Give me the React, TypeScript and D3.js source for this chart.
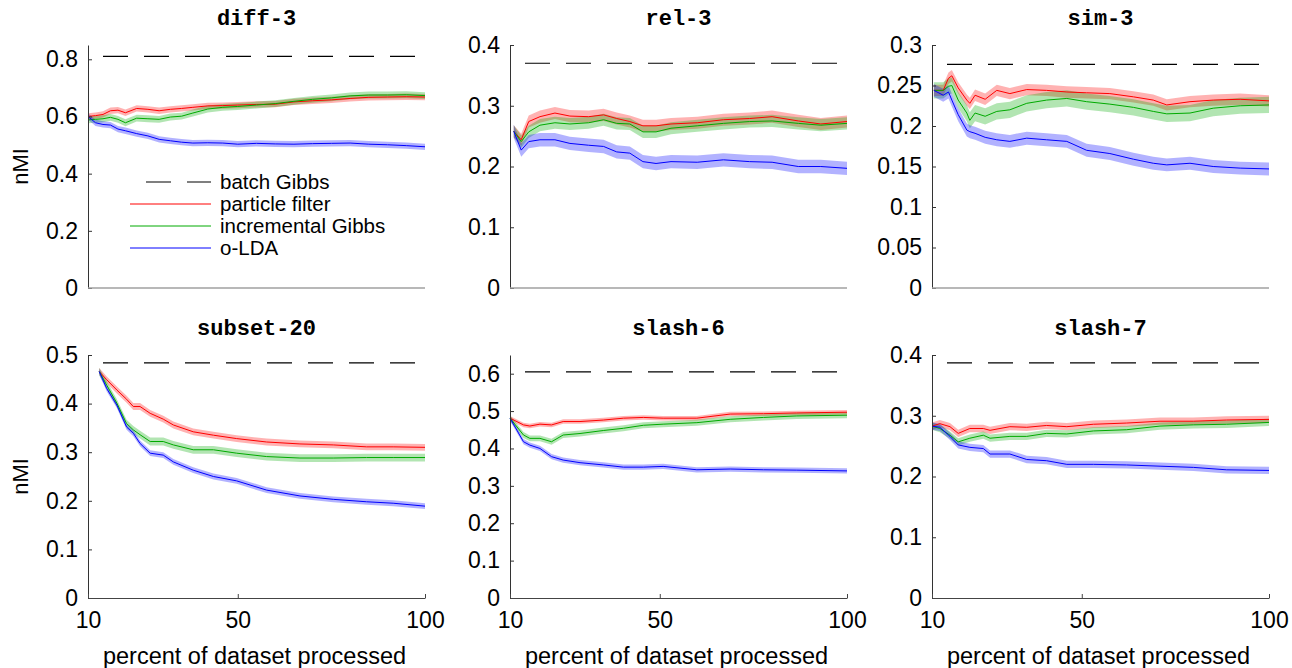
import * as d3 from "d3";
import React, { useEffect, useRef } from "react";

const width = 1292;
const height = 668;

// x = percent of dataset processed, values = nMI
const diff3X = [10, 12, 14, 16, 18, 20, 23, 26, 29, 32, 35, 38, 42, 46, 50, 55, 60, 65, 70, 75, 80, 85, 90, 95, 100];
const diff3PF = [0.600, 0.603, 0.607, 0.620, 0.622, 0.613, 0.628, 0.625, 0.620, 0.625, 0.628, 0.632, 0.637, 0.638, 0.640, 0.642, 0.643, 0.651, 0.655, 0.658, 0.663, 0.667, 0.668, 0.669, 0.668];
const diff3IG = [0.588, 0.590, 0.592, 0.597, 0.590, 0.578, 0.594, 0.592, 0.590, 0.598, 0.601, 0.612, 0.626, 0.632, 0.635, 0.640, 0.645, 0.653, 0.660, 0.665, 0.672, 0.675, 0.675, 0.676, 0.673];
const diff3OLDA = [0.600, 0.578, 0.572, 0.570, 0.556, 0.550, 0.540, 0.532, 0.520, 0.515, 0.510, 0.507, 0.508, 0.507, 0.503, 0.506, 0.504, 0.503, 0.505, 0.506, 0.507, 0.503, 0.501, 0.498, 0.494];

const rel3X = [11, 13, 15, 18, 22, 26, 31, 35, 38.5, 42, 45.5, 49, 53, 60, 67, 74, 80, 87, 93, 100];
const rel3PF = [0.258, 0.244, 0.274, 0.282, 0.288, 0.283, 0.282, 0.285, 0.279, 0.274, 0.267, 0.267, 0.270, 0.272, 0.277, 0.279, 0.282, 0.275, 0.270, 0.274];
const rel3IG = [0.258, 0.241, 0.257, 0.268, 0.272, 0.270, 0.272, 0.277, 0.271, 0.270, 0.257, 0.257, 0.263, 0.267, 0.271, 0.274, 0.275, 0.271, 0.268, 0.271];
const rel3OLDA = [0.258, 0.227, 0.241, 0.244, 0.244, 0.238, 0.235, 0.233, 0.224, 0.222, 0.208, 0.205, 0.208, 0.207, 0.211, 0.208, 0.207, 0.200, 0.200, 0.197];

const sim3X = [10.5, 13, 14.4, 15.3, 17, 19.3, 20.1, 21.5, 24.2, 27.3, 30.8, 35.3, 40.6, 46, 51.3, 57.5, 63.8, 69.1, 72.7, 78.9, 85.1, 92.3, 100];
const sim3PF = [0.244, 0.244, 0.259, 0.262, 0.247, 0.232, 0.228, 0.238, 0.233, 0.244, 0.240, 0.245, 0.244, 0.242, 0.241, 0.240, 0.236, 0.232, 0.226, 0.230, 0.232, 0.233, 0.231];
const sim3IG = [0.244, 0.244, 0.249, 0.250, 0.232, 0.216, 0.207, 0.216, 0.212, 0.218, 0.220, 0.228, 0.232, 0.234, 0.230, 0.227, 0.223, 0.218, 0.215, 0.216, 0.222, 0.225, 0.226];
const sim3OLDA = [0.244, 0.238, 0.242, 0.232, 0.214, 0.195, 0.193, 0.191, 0.186, 0.183, 0.181, 0.185, 0.183, 0.181, 0.170, 0.166, 0.159, 0.154, 0.152, 0.154, 0.150, 0.148, 0.147];

const subset20X = [13, 15, 17.7, 20.3, 22.1, 23.9, 26.6, 30.1, 32.8, 38.1, 43.5, 49.7, 57.7, 66.6, 75.5, 84.4, 91.5, 100];
const subset20PF = [0.466, 0.449, 0.428, 0.409, 0.394, 0.394, 0.380, 0.368, 0.356, 0.342, 0.335, 0.328, 0.321, 0.317, 0.315, 0.311, 0.311, 0.310];
const subset20IG = [0.466, 0.438, 0.401, 0.359, 0.346, 0.336, 0.322, 0.322, 0.315, 0.305, 0.305, 0.298, 0.291, 0.288, 0.288, 0.289, 0.289, 0.289];
const subset20OLDA = [0.466, 0.431, 0.397, 0.352, 0.339, 0.318, 0.298, 0.294, 0.280, 0.263, 0.250, 0.241, 0.222, 0.210, 0.203, 0.198, 0.195, 0.189];

const slash6X = [10, 13.6, 15.3, 18, 21.1, 24.2, 28.7, 34.9, 40.3, 45.6, 50.9, 59.9, 68.8, 77.7, 86.6, 100];
const slash6PF = [0.481, 0.463, 0.460, 0.465, 0.463, 0.472, 0.472, 0.476, 0.481, 0.483, 0.481, 0.481, 0.492, 0.493, 0.495, 0.497];
const slash6IG = [0.481, 0.436, 0.427, 0.427, 0.418, 0.436, 0.440, 0.448, 0.454, 0.462, 0.465, 0.469, 0.478, 0.483, 0.487, 0.489];
const slash6OLDA = [0.481, 0.418, 0.409, 0.400, 0.378, 0.369, 0.362, 0.356, 0.350, 0.350, 0.352, 0.343, 0.345, 0.343, 0.342, 0.340];

const slash7X = [10, 12.1, 14.8, 17, 20.1, 23.7, 25.5, 30.8, 35.3, 40.6, 46, 53.1, 62, 70.9, 79.8, 88.7, 100];
const slash7PF = [0.283, 0.287, 0.282, 0.271, 0.279, 0.279, 0.276, 0.282, 0.281, 0.284, 0.282, 0.286, 0.288, 0.291, 0.291, 0.293, 0.294];
const slash7IG = [0.283, 0.279, 0.268, 0.257, 0.263, 0.268, 0.263, 0.266, 0.266, 0.271, 0.270, 0.275, 0.277, 0.283, 0.285, 0.286, 0.289];
const slash7OLDA = [0.283, 0.281, 0.266, 0.252, 0.248, 0.246, 0.237, 0.237, 0.228, 0.226, 0.220, 0.220, 0.219, 0.217, 0.215, 0.211, 0.210];

// batch Gibbs reference level per panel
const batchGibbs = [0.81, 0.37, 0.276, 0.484, 0.605, 0.387];
const titles = ["diff-3", "rel-3", "sim-3", "subset-20", "slash-6", "slash-7"];
const yMax = [0.85, 0.4, 0.3, 0.5, 0.65, 0.4];
const yTicks = [
  [0, 0.2, 0.4, 0.6, 0.8],
  [0, 0.1, 0.2, 0.3, 0.4],
  [0, 0.05, 0.1, 0.15, 0.2, 0.25, 0.3],
  [0, 0.1, 0.2, 0.3, 0.4, 0.5],
  [0, 0.1, 0.2, 0.3, 0.4, 0.5, 0.6],
  [0, 0.1, 0.2, 0.3, 0.4],
];
const xTicks = [10, 50, 100];
// half width of the shaded band: [particle filter, incremental Gibbs, o-LDA]
const bandHalf = [
  [0.011, 0.012, 0.011],
  [0.010, 0.010, 0.011],
  [0.007, 0.010, 0.008],
  [0.007, 0.008, 0.006],
  [0.006, 0.008, 0.007],
  [0.006, 0.006, 0.006],
];

const panels = [
  { x: diff3X, ys: [diff3PF, diff3IG, diff3OLDA] },
  { x: rel3X, ys: [rel3PF, rel3IG, rel3OLDA] },
  { x: sim3X, ys: [sim3PF, sim3IG, sim3OLDA] },
  { x: subset20X, ys: [subset20PF, subset20IG, subset20OLDA] },
  { x: slash6X, ys: [slash6PF, slash6IG, slash6OLDA] },
  { x: slash7X, ys: [slash7PF, slash7IG, slash7OLDA] },
];

const seriesNames = ["particle filter", "incremental Gibbs", "o-LDA"];
const seriesColors = ["#ff0000", "#00aa00", "#0000ff"];

const colLeft = [88, 510, 932];
const rowTop = [45, 355];
const pw = 337;
const ph = 243;
const sans = "'Liberation Sans', Arial, Helvetica, sans-serif";

const fmt = (d) => (d === 0 ? "0" : String(+d.toFixed(2)));

export default function App() {
  const ref = useRef(null);

  useEffect(() => {
    const svg = d3.select(ref.current);
    svg.selectAll("*").remove();

    panels.forEach((p, i) => {
      const row = Math.floor(i / 3);
      const left = colLeft[i % 3];
      const top = rowTop[row];
      const x = d3.scaleLinear().domain([10, 100]).range([left, left + pw]);
      const y = d3.scaleLinear().domain([0, yMax[i]]).range([top + ph, top]);
      const g = svg.append("g");

      // shaded bands
      p.ys.forEach((vals, k) => {
        const hw = bandHalf[i][k];
        const area = d3
          .area()
          .x((_, j) => x(p.x[j]))
          .y0((d) => y(d - hw))
          .y1((d) => y(d + hw));
        g.append("path")
          .attr("d", area(vals))
          .attr("fill", seriesColors[k])
          .attr("fill-opacity", 0.3);
      });

      // mean lines
      p.ys.forEach((vals, k) => {
        const line = d3
          .line()
          .x((_, j) => x(p.x[j]))
          .y((d) => y(d));
        g.append("path")
          .attr("d", line(vals))
          .attr("fill", "none")
          .attr("stroke", seriesColors[k])
          .attr("stroke-width", 1);
      });

      // batch Gibbs
      g.append("line")
        .attr("x1", x(10))
        .attr("x2", x(100))
        .attr("y1", y(batchGibbs[i]))
        .attr("y2", y(batchGibbs[i]))
        .attr("stroke", "#000")
        .attr("stroke-width", 1.2)
        .attr("stroke-dasharray", "25,16")
        .attr("stroke-dashoffset", 26);

      // y axis
      const ya = g
        .append("g")
        .attr("transform", `translate(${left},0)`)
        .call(
          d3
            .axisLeft(y)
            .tickValues(yTicks[i])
            .tickFormat(fmt)
            .tickSizeInner(-4)
            .tickSizeOuter(0)
            .tickPadding(10)
        );
      ya.select(".domain").attr("stroke", "#333");
      ya.selectAll(".tick line").attr("stroke", "#333");
      ya.selectAll("text")
        .attr("font-family", sans)
        .attr("font-size", 23)
        .attr("fill", "#000");

      // x axis
      if (row === 0) {
        g.append("line")
          .attr("x1", left)
          .attr("x2", left + pw)
          .attr("y1", top + ph)
          .attr("y2", top + ph)
          .attr("stroke", "#a0a0a0")
          .attr("stroke-width", 1.5);
      } else {
        const xa = g
          .append("g")
          .attr("transform", `translate(0,${top + ph})`)
          .call(
            d3
              .axisBottom(x)
              .tickValues(xTicks)
              .tickSizeInner(-4)
              .tickSizeOuter(0)
              .tickPadding(14)
          );
        xa.select(".domain").attr("stroke", "#444");
        xa.selectAll(".tick line").attr("stroke", "#444");
        xa.selectAll("text")
          .attr("font-family", sans)
          .attr("font-size", 23)
          .attr("fill", "#000");

        g.append("text")
          .attr("x", left + pw / 2 - 2)
          .attr("y", 664)
          .attr("text-anchor", "middle")
          .attr("font-family", sans)
          .attr("font-size", 23.5)
          .text("percent of dataset processed");
      }

      // title
      g.append("text")
        .attr("x", left + pw / 2)
        .attr("y", top - 20)
        .attr("text-anchor", "middle")
        .attr("font-family", "'Liberation Mono', 'Courier New', monospace")
        .attr("font-weight", "bold")
        .attr("font-size", 22)
        .text(titles[i]);

      if (i % 3 === 0) {
        g.append("text")
          .attr("transform", `translate(28,${top + ph / 2}) rotate(-90)`)
          .attr("text-anchor", "middle")
          .attr("font-family", sans)
          .attr("font-size", 22)
          .text("nMI");
      }

      // legend in the first panel
      if (i === 0) {
        const lg = g.append("g");
        const rows = [{ name: "batch Gibbs", color: "#000", dash: true }].concat(
          seriesNames.map((n, k) => ({ name: n, color: seriesColors[k], dash: false }))
        );
        rows.forEach((r, k) => {
          const ly = 182 + k * 22;
          lg.append("line")
            .attr("x1", 130)
            .attr("x2", 211)
            .attr("y1", ly)
            .attr("y2", ly)
            .attr("stroke", r.color)
            .attr("stroke-width", r.dash ? 1.2 : 1)
            .attr("stroke-dasharray", r.dash ? "25,16" : null)
            .attr("stroke-dashoffset", r.dash ? 25 : null);
          lg.append("text")
            .attr("x", 220)
            .attr("y", ly + 7)
            .attr("font-family", sans)
            .attr("font-size", 20.5)
            .text(r.name);
        });
      }
    });
  }, []);

  return (
    <div style={{ position: "absolute", left: 0, top: 0 }}>
      <svg ref={ref} width={width} height={height} style={{ display: "block", background: "#fff" }} />
    </div>
  );
}
